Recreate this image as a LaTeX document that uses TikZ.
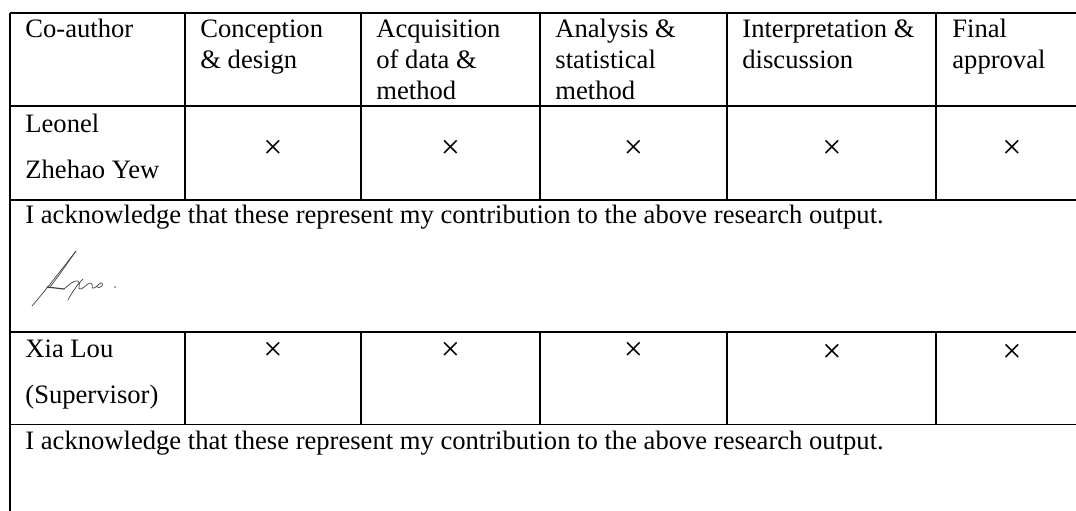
\documentclass[tikz,border=0pt]{standalone}
\usepackage{fontspec}
\setmainfont{Liberation Serif}
\newcommand\cellfont{\fontsize{13.3pt}{16pt}\selectfont}
\newcommand\xmfont{\fontsize{17pt}{19pt}\selectfont}
\begin{document}
\begin{tikzpicture}[x=0.5pt,y=-0.5pt,
  rule/.style={line width=0.9pt,black},
  txt/.style={anchor=base west,inner sep=0pt,font=\cellfont},
  xmk/.style={anchor=center,inner sep=0pt,font=\xmfont},
  sig/.style={line width=0.35pt,black!75,line cap=round,line join=round}]
\useasboundingbox (0,0) rectangle (1076,510);
\clip (0,0) rectangle (1076,510);
% table rules
\foreach \yy in {13,106,200,332,424.5} \draw[rule] (10,\yy) -- (1090,\yy);
\draw[rule] (10,13) -- (10,520);
\foreach \xx in {185,361,540,727,936} {
  \draw[rule] (\xx,13) -- (\xx,200);
  \draw[rule] (\xx,332) -- (\xx,424.5);
}
% header
\node[txt] (h1) at (25,37) {Co-author};
\node[txt] (h2a) at (200,37) {Conception};
\node[txt] (h2b) at (200,68) {\& design};
\node[txt] (h3a) at (376,37) {Acquisition};
\node[txt] (h3b) at (376,68) {of data \&};
\node[txt] (h3c) at (376,99) {method};
\node[txt] (h4a) at (555,37) {Analysis \&};
\node[txt] (h4b) at (555,68) {statistical};
\node[txt] (h4c) at (555,99) {method};
\node[txt] (h5a) at (742,37) {Interpretation \&};
\node[txt] (h5b) at (742,68) {discussion};
\node[txt] (h6a) at (952,37) {Final};
\node[txt] (h6b) at (952,68) {approval};
% Leonel row
\node[txt] (l1) at (25,132) {Leonel};
\node[txt] (l2) at (25,178) {Zhehao Yew};
\node[xmk] (lx1) at (273,149) {×};
\node[xmk] (lx2) at (450.5,149) {×};
\node[xmk] (lx3) at (633.5,149) {×};
\node[xmk] (lx4) at (832,149) {×};
\node[xmk] (lx5) at (1012,149) {×};
% acknowledgement 1
\node[txt] (ack1) at (25,223) {I acknowledge that these represent my contribution to the above research output.};
% signature
\draw[sig] (32,306) .. controls (50,285) and (65,265) .. (76,251);
\draw[sig] (76,251) .. controls (66,265) and (56,280) .. (49,288);
\draw[sig,line width=0.6pt] (47,287) -- (64,289);
\draw[sig] (68,300) .. controls (72,292) and (78,284) .. (83,279);
\draw[sig] (64,289) .. controls (70,284) and (74,280) .. (78,281)
  .. controls (82,283) and (76,290) .. (81,289)
  .. controls (86,287) and (88,282) .. (91,283)
  .. controls (94,285) and (90,289) .. (94,288)
  .. controls (98,286) and (100,282) .. (102,283)
  .. controls (104,285) and (100,289) .. (97,287);
\fill[black!70] (115,287) circle (0.8);
% Xia Lou row
\node[txt] (x1) at (25,357) {Xia Lou};
\node[txt] (x2) at (25,403) {(Supervisor)};
\node[xmk] (xx1) at (273,351) {×};
\node[xmk] (xx2) at (450.5,351) {×};
\node[xmk] (xx3) at (633.5,351) {×};
\node[xmk] (xx4) at (832,353) {×};
\node[xmk] (xx5) at (1012,353) {×};
% acknowledgement 2
\node[txt] (ack2) at (25,449) {I acknowledge that these represent my contribution to the above research output.};
\end{tikzpicture}
\end{document}
